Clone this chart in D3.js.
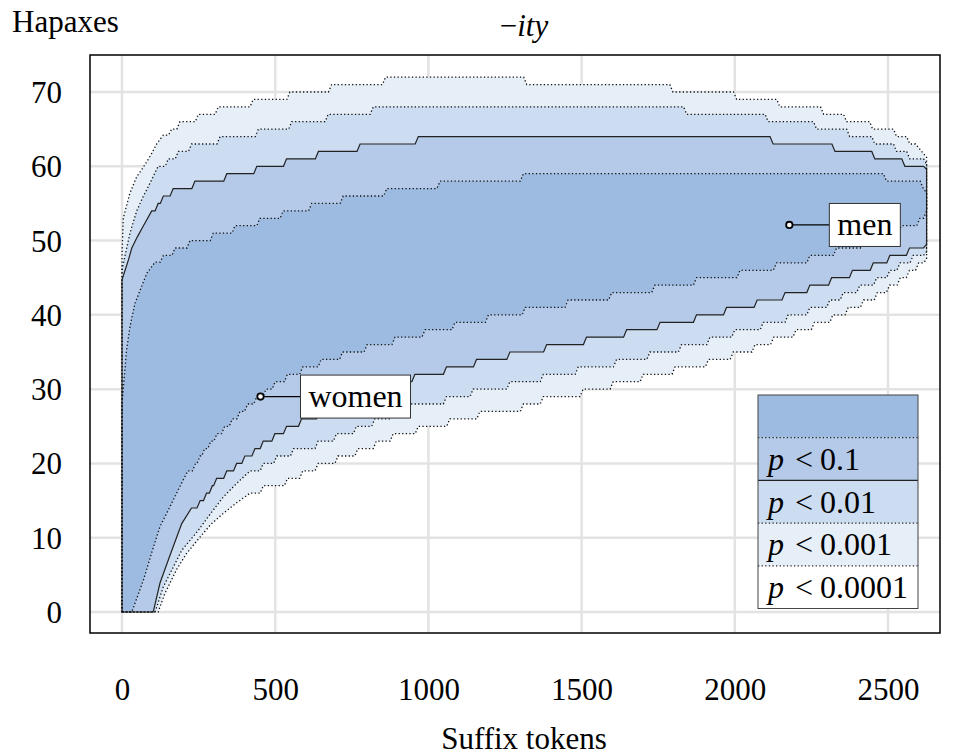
<!DOCTYPE html>
<html><head><meta charset="utf-8">
<script src="https://cdn.jsdelivr.net/npm/d3@7"></script>
<style>body{margin:0;background:#fff} text{font-family:"Liberation Serif","Times New Roman",serif;fill:#000}</style>
</head><body><svg id="c" width="953" height="756"></svg>
<script>
// ---------------- data ----------------
const xTicks = [0, 500, 1000, 1500, 2000, 2500];
const yTicks = [0, 10, 20, 30, 40, 50, 60, 70];
const totalTokens = 2626;
// upper envelopes [tokens, hapaxes] (level starts)
const upper1 = [[0,0],[0,28],[15,35.3],[26,38.4],[42,41.5],[59,43.3],[81,45.6],[108,47.1],[135,48],[173,49],[222,50],[298,51],[369,52],[450,53],[526,54],[619,55],[722,56],[864,57],[1038,58],[1310,59],[2495,58],[2615,57],[2626,56.4]];
const upper2 = [[0,0],[0,44.7],[10,46],[21,47.4],[32,49],[50,50.5],[70,52],[97,54],[118,55],[135,56],[167,57],[238,58],[342,59],[440,60],[537,61],[641,62],[777,63],[967,64],[2125,63],[2327,62],[2457,61],[2555,60],[2626,59.6]];
const upper3 = [[0,0],[0,46],[10,48],[26,51],[48,54],[70,56],[91,57.7],[118,60],[151,61],[184,62],[227,63],[320,64],[445,65],[554,66],[673,67],[820,68],[1843,67],[2109,66],[2267,65],[2375,64],[2457,63],[2528,62],[2571,61],[2626,60.3]];
const upper4 = [[0,0],[0,48],[4,53],[26,56.4],[48,58.6],[70,59.9],[94,61.5],[113,63],[135,64.2],[162,65],[189,66],[249,67],[314,68],[428,69],[548,70],[684,71],[860,72],[1321,71],[1798,70],[2006,69],[2147,68],[2290,67],[2365,66],[2450,65],[2528,64],[2571,63],[2600,62.5],[2626,61.2]];
// lower envelopes
const lower1 = [[32,0],[70,4.3],[97,8],[124,11.5],[157,14.2],[189,16.9],[215,19],[240,20],[255,21],[270,22],[290,23],[310,24],[335,25],[360,26],[385,27],[410,28],[440,29],[470,30],[500,31],[540,32],[590,33],[650,34],[720,35],[800,36],[891,37],[989,38],[1087,39],[1196,40],[1316,41],[1456,42],[1598,43],[1739,44],[1875,45],[2017,46],[2136,47],[2245,48],[2332,49],[2420,50],[2490,51],[2544,52],[2604,53],[2626,54]];
const lower2 = [[102,0],[124,3.9],[160,8],[195,11.9],[227,14],[255,15],[276,16],[295,17],[309,18],[342,19],[374,20],[401,21],[434,22],[461,23],[499,24],[537,25],[586,26],[645,27],[705,28],[765,29],[830,30],[893,31],[956,32],[1059,33],[1157,34],[1266,35],[1386,36],[1516,37],[1647,38],[1756,39],[1875,40],[1973,41],[2073,42],[2164,43],[2245,44],[2316,45],[2384,46],[2452,47],[2506,48],[2570,49],[2626,49.5]];
const lower3 = [[108,0],[135,3.4],[195,8.3],[249,11],[290,13.3],[331,15.5],[374,17.3],[418,19],[461,20],[505,21],[560,22],[640,23],[700,24],[765,25],[825,26],[885,27],[945,28],[1059,29],[1146,30],[1266,31],[1375,32],[1489,33],[1614,34],[1723,35],[1826,36],[1919,37],[2000,38],[2093,39],[2174,40],[2245,41],[2310,42],[2354,43],[2408,44],[2463,45],[2506,46],[2539,47],[2582,48],[2626,48.5]];
const lower4 = [[118,0],[140,2.5],[178,5.7],[211,7.9],[255,10.1],[290,11.8],[331,13.3],[374,14.7],[418,16],[461,17],[540,18],[590,19],[640,20],[705,21],[770,22],[830,23],[885,24],[967,25],[1070,26],[1168,27],[1310,28],[1375,29],[1505,30],[1603,31],[1701,32],[1805,33],[1914,34],[1995,35],[2066,36],[2127,37],[2200,38],[2260,39],[2320,40],[2370,41],[2420,42],[2465,43],[2505,44],[2540,45],[2570,46],[2600,47],[2626,47.5]];
const bandNames = ["", "0.1", "0.01", "0.001", "0.0001"];
const speakers = ["women", "men"];
const speakerTokens = [452, 2178];
const speakerHapaxes = [29, 52.1];

// ---------------- layout ----------------
const svg = d3.select("#c");
const frame = {l: 90, r: 940, t: 55, b: 633};
const x = d3.scaleLinear().domain([0, 2500]).range([122, 888]);
const y = d3.scaleLinear().domain([0, 70]).range([612, 92]);
const fills = ["#9dbbe1", "#b4cae8", "#ccdcf1", "#e6eef8", "#ffffff"];
const FONT = 31, LFONT = 32;

// gridlines
const g = svg.append("g");
g.selectAll("line.gx").data(xTicks).join("line")
  .attr("x1", d => x(d)).attr("x2", d => x(d)).attr("y1", frame.t).attr("y2", frame.b)
  .attr("stroke", "#e3e3e3").attr("stroke-width", 2.5);
g.selectAll("line.gy").data(yTicks).join("line")
  .attr("y1", d => y(d)).attr("y2", d => y(d)).attr("x1", frame.l).attr("x2", frame.r)
  .attr("stroke", "#e3e3e3").attr("stroke-width", 2.5);

function stepVerts(pts) {
  const r = 10, out = [pts[0]];
  for (let i = 1; i < pts.length; i++) {
    const [x0, y0] = pts[i - 1], [x1, y1] = pts[i];
    if (Math.abs(y1 - y0) <= 1.05 && x1 - r > x0) out.push([x1 - r, y0]);
    out.push([x1, y1]);
  }
  return out;
}
const line = d3.line().x(d => x(d[0])).y(d => y(d[1]));
function poly(up, lo) {
  const u = stepVerts(up), l = stepVerts(lo).reverse();
  return line(u.concat(l)) + "Z";
}
const bands = [[upper4, lower4], [upper3, lower3], [upper2, lower2], [upper1, lower1]];
const bandFill = [fills[3], fills[2], fills[1], fills[0]];
const bandDash = ["1.3 2.3", "1.3 2.3", null, "1.3 2.3"];
const pg = svg.append("g");
bands.forEach((b, i) => {
  pg.append("path").attr("d", poly(b[0], b[1])).attr("fill", bandFill[i]).attr("stroke", "none");
});
bands.forEach((b, i) => {
  pg.append("path").attr("d", poly(b[0], b[1])).attr("fill", "none")
    .attr("stroke", bandDash[i] ? "#111" : "#222").attr("stroke-width", bandDash[i] ? 1.3 : 1.2)
    .attr("stroke-dasharray", bandDash[i]);
});

// speaker labels
const boxW = [110, 71], boxOff = [40, 40];
speakers.forEach((s, i) => {
  const cx = x(speakerTokens[i]), cy = y(speakerHapaxes[i]);
  const bx = cx + boxOff[i];
  svg.append("line").attr("x1", cx).attr("x2", bx).attr("y1", cy).attr("y2", cy).attr("stroke", "#000").attr("stroke-width", 1.2);
  svg.append("rect").attr("x", bx).attr("y", cy - 21.5).attr("width", boxW[i]).attr("height", 43)
    .attr("fill", "#fff").attr("stroke", "#333").attr("stroke-width", 1);
  svg.append("text").attr("x", bx + boxW[i] / 2).attr("y", cy + 10).attr("text-anchor", "middle")
    .attr("font-size", LFONT).text(s);
  svg.append("circle").attr("cx", cx).attr("cy", cy).attr("r", 3.2).attr("fill", "#fff").attr("stroke", "#000").attr("stroke-width", 1.8);
});

// legend
const lg = svg.append("g");
const lx = 758, ly = 395, lw = 160, lh = 42.7;
bandNames.forEach((nm, i) => {
  lg.append("rect").attr("x", lx).attr("y", ly + i * lh).attr("width", lw).attr("height", lh).attr("fill", fills[i]);
  if (nm) {
    const t = lg.append("text").attr("x", lx + 10).attr("y", ly + i * lh + lh / 2 + 11).attr("font-size", LFONT);
    t.append("tspan").attr("font-style", "italic").text("p");
    t.append("tspan").attr("dx", 11).text("<");
    t.append("tspan").attr("dx", 7).text(nm);
  }
});
const sepDash = ["1.3 2.3", null, "1.3 2.3", "1.3 2.3"];
sepDash.forEach((d, i) => {
  lg.append("line").attr("x1", lx).attr("x2", lx + lw).attr("y1", ly + (i + 1) * lh).attr("y2", ly + (i + 1) * lh)
    .attr("stroke", "#222").attr("stroke-width", d ? 1.3 : 1.2).attr("stroke-dasharray", d);
});
lg.append("rect").attr("x", lx).attr("y", ly).attr("width", lw).attr("height", lh * 5)
  .attr("fill", "none").attr("stroke", "#444").attr("stroke-width", 1);

// frame & axes (no visible tick marks)
svg.append("rect").attr("x", frame.l).attr("y", frame.t).attr("width", frame.r - frame.l).attr("height", frame.b - frame.t)
  .attr("fill", "none").attr("stroke", "#000").attr("stroke-width", 1.5);
const xa = svg.append("g").attr("transform", `translate(0,${frame.b})`)
  .call(d3.axisBottom(x).tickValues(xTicks).tickSize(0).tickPadding(67).tickFormat(d3.format("d")));
const ya = svg.append("g").attr("transform", `translate(${frame.l},0)`)
  .call(d3.axisLeft(y).tickValues(yTicks).tickSize(0).tickPadding(28).tickFormat(d3.format("d")));
[xa, ya].forEach(a => {
  a.select(".domain").remove();
  a.selectAll(".tick line").remove();
  a.selectAll(".tick text").attr("font-size", FONT).attr("font-family", '"Liberation Serif",serif').attr("fill", "#000");
});
xa.selectAll(".tick text").attr("dy", "0");
ya.selectAll(".tick text").attr("dy", "0.34em");

// titles
const ti = svg.append("text").attr("x", 524).attr("y", 36).attr("text-anchor", "middle").attr("font-size", FONT);
ti.append("tspan").text("\u2212");
ti.append("tspan").attr("font-style", "italic").text("ity");
svg.append("text").attr("x", 12).attr("y", 32).attr("font-size", FONT).text("Hapaxes");
svg.append("text").attr("x", 524).attr("y", 749).attr("text-anchor", "middle").attr("font-size", FONT).text("Suffix tokens");
</script></body></html>
